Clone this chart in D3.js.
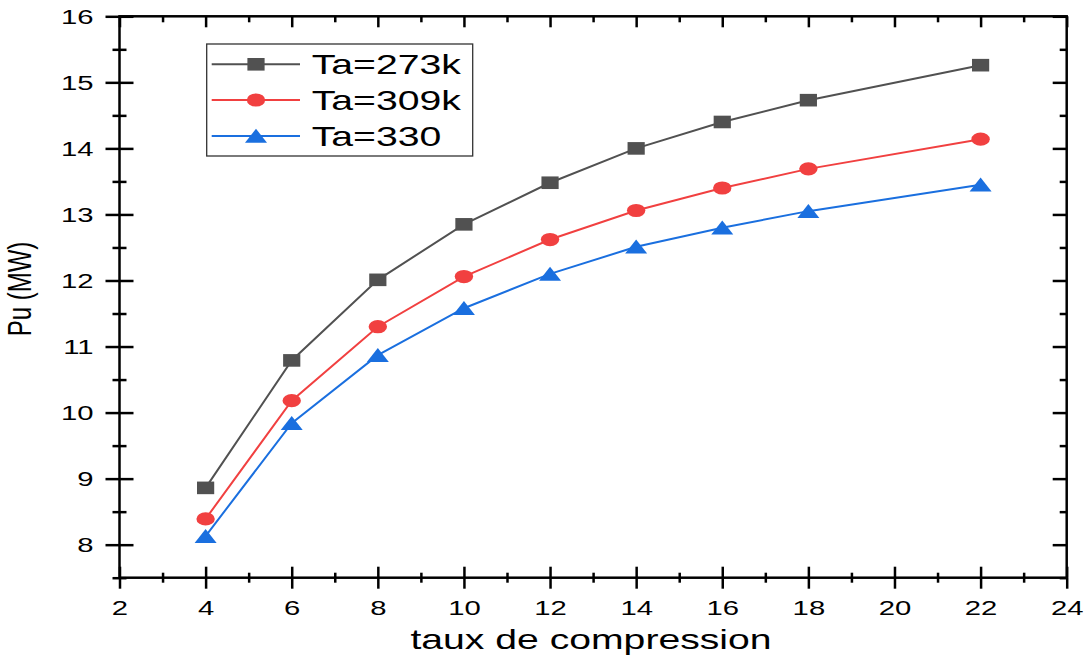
<!DOCTYPE html>
<html>
<head>
<meta charset="utf-8">
<script src="https://cdn.jsdelivr.net/npm/d3@7"></script>
<style>
  body { margin: 0; background: #fff; }
  svg { display: block; font-family: "Liberation Sans", Arial, sans-serif; }
</style>
</head>
<body>
<svg id="chart" width="1088" height="669"></svg>
<script>
// ---- data ----
const xValues = [4, 6, 8, 10, 12, 14, 16, 18, 22];
const seriesNames = ["Ta=273k", "Ta=309k", "Ta=330"];
const pu273 = [8.86, 10.79, 12.01, 12.85, 13.48, 14.00, 14.40, 14.73, 15.26];
const pu309 = [8.39, 10.18, 11.30, 12.06, 12.62, 13.06, 13.40, 13.69, 14.14];
const pu330 = [8.13, 9.84, 10.87, 11.58, 12.10, 12.51, 12.80, 13.05, 13.45];
const xTicks = [2, 4, 6, 8, 10, 12, 14, 16, 18, 20, 22, 24];
const xMinor = [3, 5, 7, 9, 11, 13, 15, 17, 19, 21, 23];
const yTicks = [8, 9, 10, 11, 12, 13, 14, 15, 16];
const yMinor = [7.5, 8.5, 9.5, 10.5, 11.5, 12.5, 13.5, 14.5, 15.5];
const xTitle = "taux de compression";
const yTitle = "Pu (MW)";

const colors = ["#515151", "#F14040", "#1A6FDF"];
const shapes = ["square", "circle", "triangle"];
const series = [pu273, pu309, pu330];

// ---- layout ----
const L = 119.5, R = 1066.7, T = 16.3, B = 577.7;
const SX = 1.5; // horizontal stretch of text

const svg = d3.select("#chart");
const x = d3.scaleLinear().domain([2, 24]).range([L, R]);
const y = d3.scaleLinear().domain([7.5, 16]).range([B, T]);

const axisStroke = 2.5;

function styleAxis(g) {
  g.select(".domain").remove();
  g.selectAll(".tick line").attr("stroke", "#000").attr("stroke-width", axisStroke);
}

// bottom axis: crossing ticks
svg.append("g").attr("transform", `translate(0,${B})`)
  .call(d3.axisBottom(x).tickValues(xTicks).tickSize(11).tickFormat(""))
  .call(styleAxis);
svg.append("g").attr("transform", `translate(0,${B})`)
  .call(d3.axisBottom(x).tickValues(xTicks).tickSize(-11).tickFormat(""))
  .call(styleAxis);
svg.append("g").attr("transform", `translate(0,${B})`)
  .call(d3.axisBottom(x).tickValues(xMinor).tickSize(5).tickFormat(""))
  .call(styleAxis);
svg.append("g").attr("transform", `translate(0,${B})`)
  .call(d3.axisBottom(x).tickValues(xMinor).tickSize(-5).tickFormat(""))
  .call(styleAxis);
// bottom labels
const xl = svg.append("g").attr("transform", `translate(0,${B})`)
  .call(d3.axisBottom(x).tickValues(xTicks).tickSize(0).tickPadding(0).tickFormat(d3.format("d")));
xl.select(".domain").remove();
xl.selectAll("text")
  .attr("y", 0).attr("dy", null)
  .attr("transform", `translate(0,37.3) scale(${SX},1)`)
  .attr("font-size", 19.5).attr("fill", "#000")
  .attr("font-family", "Liberation Sans, Arial, sans-serif");

// left axis: crossing ticks
svg.append("g").attr("transform", `translate(${L},0)`)
  .call(d3.axisLeft(y).tickValues(yTicks).tickSize(14).tickFormat(""))
  .call(styleAxis);
svg.append("g").attr("transform", `translate(${L},0)`)
  .call(d3.axisLeft(y).tickValues(yTicks).tickSize(-14).tickFormat(""))
  .call(styleAxis);
svg.append("g").attr("transform", `translate(${L},0)`)
  .call(d3.axisLeft(y).tickValues(yMinor).tickSize(7).tickFormat(""))
  .call(styleAxis);
svg.append("g").attr("transform", `translate(${L},0)`)
  .call(d3.axisLeft(y).tickValues(yMinor).tickSize(-7).tickFormat(""))
  .call(styleAxis);
const yl = svg.append("g").attr("transform", `translate(${L},0)`)
  .call(d3.axisLeft(y).tickValues(yTicks).tickSize(0).tickPadding(0).tickFormat(d3.format("d")));
yl.select(".domain").remove();
yl.selectAll("text")
  .attr("x", 0).attr("dy", "0.35em")
  .attr("transform", `translate(-26,0) scale(${SX},1)`)
  .attr("font-size", 19.5).attr("fill", "#000")
  .attr("font-family", "Liberation Sans, Arial, sans-serif");

// top axis: inward ticks
svg.append("g").attr("transform", `translate(0,${T})`)
  .call(d3.axisTop(x).tickValues(xTicks).tickSize(-11).tickFormat(""))
  .call(styleAxis);
svg.append("g").attr("transform", `translate(0,${T})`)
  .call(d3.axisTop(x).tickValues(xMinor).tickSize(-6).tickFormat(""))
  .call(styleAxis);
// right axis: inward ticks
svg.append("g").attr("transform", `translate(${R},0)`)
  .call(d3.axisRight(y).tickValues(yTicks).tickSize(-14).tickFormat(""))
  .call(styleAxis);
svg.append("g").attr("transform", `translate(${R},0)`)
  .call(d3.axisRight(y).tickValues(yMinor).tickSize(-7).tickFormat(""))
  .call(styleAxis);

// frame
svg.append("rect")
  .attr("x", L).attr("y", T).attr("width", R - L).attr("height", B - T)
  .attr("fill", "none").attr("stroke", "#000").attr("stroke-width", axisStroke);

// ---- markers ----
function marker(g, shape, color) {
  if (shape === "square") {
    g.append("rect").attr("x", -8.6).attr("y", -6.3).attr("width", 17.2).attr("height", 12.6).attr("fill", color);
  } else if (shape === "circle") {
    g.append("ellipse").attr("rx", 9.2).attr("ry", 6.6).attr("fill", color);
  } else {
    g.append("path").attr("d", "M0,-7.2 L11,6.8 L-11,6.8 Z").attr("fill", color);
  }
}

const line = d3.line().x(d => x(d[0])).y(d => y(d[1]));

series.forEach((vals, i) => {
  const pts = xValues.map((xv, j) => [xv, vals[j]]);
  const g = svg.append("g");
  g.append("path").attr("d", line(pts)).attr("fill", "none")
    .attr("stroke", colors[i]).attr("stroke-width", 2);
  pts.forEach(p => {
    const mg = g.append("g").attr("transform", `translate(${x(p[0])},${y(p[1])})`);
    marker(mg, shapes[i], colors[i]);
  });
});

// ---- legend ----
const leg = svg.append("g");
leg.append("rect").attr("x", 206.7).attr("y", 44).attr("width", 266).attr("height", 112)
  .attr("fill", "#fff").attr("stroke", "#333").attr("stroke-width", 1.3);
const rowsY = [64.3, 100, 136];
seriesNames.forEach((name, i) => {
  leg.append("line").attr("x1", 211.7).attr("x2", 300).attr("y1", rowsY[i]).attr("y2", rowsY[i])
    .attr("stroke", colors[i]).attr("stroke-width", 2);
  const mg = leg.append("g").attr("transform", `translate(256,${rowsY[i]})`);
  marker(mg, shapes[i], colors[i]);
  leg.append("text").attr("transform", `translate(311.7,${rowsY[i]}) scale(1.4,1)`)
    .attr("dy", "0.36em").attr("font-size", 28).attr("fill", "#000").text(name);
});

// ---- axis titles ----
svg.append("text").attr("transform", `translate(591,649.3) scale(1.45,1)`)
  .attr("text-anchor", "middle").attr("font-size", 27).attr("fill", "#000").text(xTitle);
svg.append("text").attr("transform", `translate(31,289) scale(1.4,1) rotate(-90)`)
  .attr("text-anchor", "middle").attr("font-size", 24).attr("fill", "#000").text(yTitle);
</script>
</body>
</html>
